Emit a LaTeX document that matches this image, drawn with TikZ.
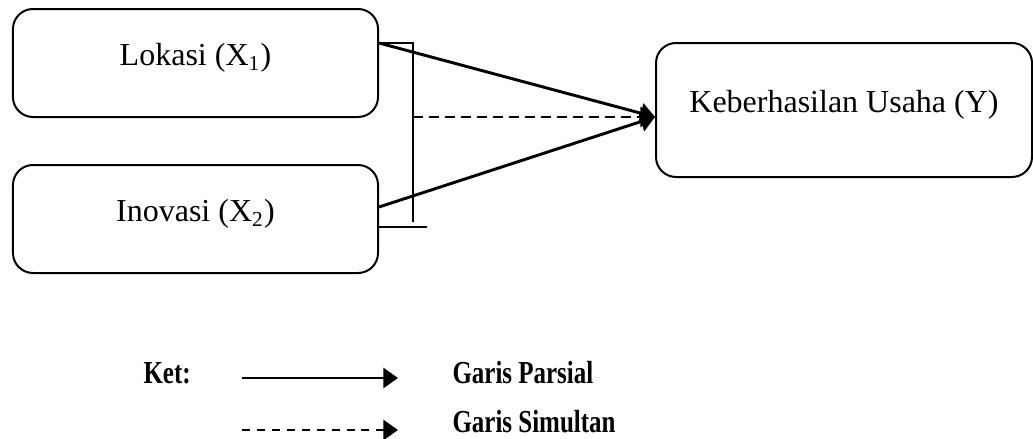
\documentclass[tikz,border=0pt]{standalone}
\usepackage{fontspec}
\setmainfont{Liberation Serif}
\usepackage{graphicx}
\usetikzlibrary{arrows.meta}

\newcommand{\kettext}[1]{\scalebox{0.78}[1]{\bfseries #1}}

\tikzset{
  box/.style={draw, line width=0.75pt, rounded corners=7.5pt, align=center,
    text height=8.5pt, text depth=6.5pt},
  parsial/.style={line width=1.1pt, -{Triangle[length=5.5pt,width=7.5pt]}},
  simultan/.style={parsial, dash pattern=on 3.6pt off 2.4pt},
  kurung/.style={line width=0.5pt},
  ket/.style={anchor=base west, inner sep=0pt}
}

\begin{document}
\begin{tikzpicture}[x=0.375pt, y=-0.375pt, font=\fontsize{12pt}{14pt}\selectfont]
  \useasboundingbox (0,0) rectangle (1033,439);
  % variables
  \node[box, minimum width=136.9pt, minimum height=40.5pt] (lok) at (195.5,63) {Lokasi (X\textsubscript{1})};
  \node[box, minimum width=136.9pt, minimum height=40.5pt] (inv) at (195.5,219) {Inovasi (X\textsubscript{2})};
  \node[box, minimum width=141pt, minimum height=50.25pt] (keb) at (844,110) {Keberhasilan Usaha (Y)};
  % bracket for the joint effect
  \coordinate (bt) at (413,43);
  \coordinate (bm) at (413,117);
  \coordinate (bb) at (413,222);
  \coordinate (be) at (427,227);
  \draw[kurung] (lok.east |- bt) -- (bt) -- (bb);
  \draw[kurung] (inv.east |- be) -- (be);
  % paths
  \draw[parsial] (lok.east |- bt) -- (keb.west |- bm);
  \draw[parsial] (inv.east |- 0,207) -- (keb.west |- bm);
  \draw[simultan] (bm) -- (keb.west |- bm);
  % legend
  \node[ket] (ket) at (143,383) {\kettext{Ket:}};
  \coordinate (pa) at (242,378);
  \coordinate (pb) at (398,378);
  \coordinate (sa) at (242,430);
  \coordinate (sb) at (398,430);
  \draw[parsial] (pa) -- (pb);
  \draw[simultan, dash pattern=on 3pt off 2.6pt] (sa) -- (sb);
  \node[ket] (lpar) at (452,383) {\kettext{Garis Parsial}};
  \node[ket] (lsim) at (452,432) {\kettext{Garis Simultan}};
\end{tikzpicture}
\end{document}
